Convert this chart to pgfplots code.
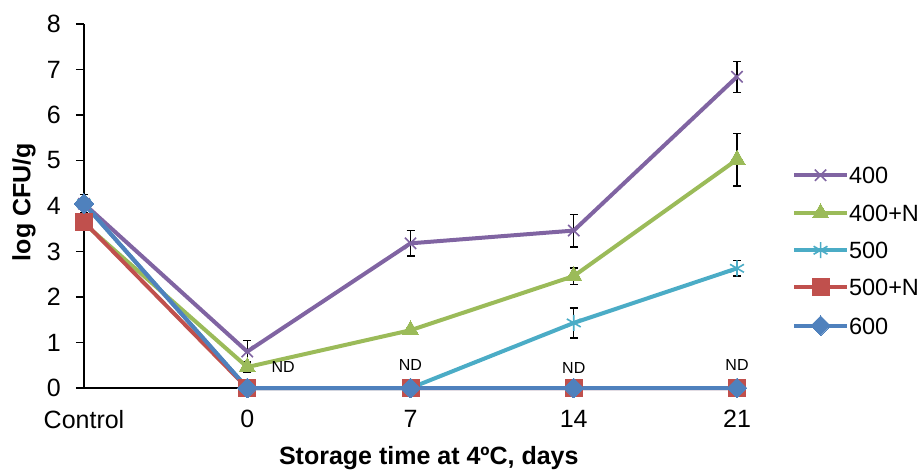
\documentclass[border=0pt]{standalone}
\usepackage{pgfplots}
\pgfplotsset{compat=1.18}
\usepackage{fontspec}
\setmainfont{Liberation Sans}
\definecolor{cpurple}{RGB}{128,100,162}
\definecolor{cgreen}{RGB}{155,187,89}
\definecolor{ccyan}{RGB}{75,172,198}
\definecolor{cred}{RGB}{192,80,77}
\definecolor{cblue}{RGB}{79,129,189}
\begin{document}
\begin{tikzpicture}
\useasboundingbox (-84pt,-84pt) rectangle (837pt,388pt);
\begin{axis}[
  scale only axis, width=653pt, height=364pt,
  xmin=0, xmax=4, ymin=0, ymax=8,
  clip=false,
  axis lines=left,
  axis line style={-, line width=1.3pt, black},
  xtick={0,1,2,3,4},
  xticklabels={Control,0,7,14,21},
  ytick={0,1,...,8},
  xtick style={draw=none},
  ytick style={line width=1.3pt, black},
  tick align=outside,
  major tick length=8pt,
  /pgf/number format/assume math mode=true,
  tick label style={font=\fontsize{25}{30}\selectfont},
  yticklabel style={inner sep=0pt, anchor=east, xshift=-15pt},
  xticklabel style={inner sep=0pt, anchor=north, yshift=-14pt},
  xlabel={\bfseries Storage time at 4ºC, days},
  ylabel={\bfseries log CFU/g},
  label style={font=\fontsize{25}{30}\selectfont},
  xlabel style={at={(axis description cs:0.528,-0.192)}, anchor=center},
  ylabel style={at={(axis description cs:-0.092,0.511)}, anchor=center, rotate=0},
  legend style={draw=none, fill=none, at={(rel axis cs:1.084,0.376)}, anchor=west,
    inner sep=0pt, row sep=20pt, font=\fontsize{23.5}{28}\selectfont,
    nodes={inner sep=0pt, text height=17pt, text depth=0pt, xshift=5pt}},
  legend cell align=left,
  legend image code/.code={\draw[mark repeat=2,mark phase=2,#1] plot coordinates {(0pt,0pt) (26.5pt,0pt) (53pt,0pt)};},
]
% 400
\addplot[forget plot, draw=none, mark=none, error bars/.cd, y dir=both, y explicit,
  error bar style={draw=black, line width=1.3pt, solid},
  error mark options={draw=black, line width=1.3pt, rotate=90, mark size=4pt}]
  coordinates {(0,4.05) +- (0,0.2) (1,0.80) +- (0,0.25) (2,3.18) +- (0,0.28) (3,3.46) +- (0,0.36) (4,6.84) +- (0,0.34)};
\addplot[cpurple, line width=4pt, mark=x, mark size=8pt, mark options={line width=1.6pt, solid}]
  coordinates {(0,4.05) (1,0.80) (2,3.18) (3,3.46) (4,6.84)};
\addlegendentry{400}
% 400+N
\addplot[forget plot, draw=none, mark=none, error bars/.cd, y dir=both, y explicit,
  error bar style={draw=black, line width=1.3pt, solid},
  error mark options={draw=black, line width=1.3pt, rotate=90, mark size=4pt}]
  coordinates {(1,0.46) +- (0,0.12) (2,1.27) +- (0,0.06) (3,2.46) +- (0,0.18) (4,5.02) +- (0,0.58)};
\addplot[cgreen, line width=4pt, mark=triangle*, mark size=9.5pt, mark options={line width=0pt, solid, fill=cgreen}]
  coordinates {(0,3.62) (1,0.46) (2,1.27) (3,2.46) (4,5.02)};
\addlegendentry{400+N}
% 500
\addplot[forget plot, draw=none, mark=none, error bars/.cd, y dir=both, y explicit,
  error bar style={draw=black, line width=1.3pt, solid},
  error mark options={draw=black, line width=1.3pt, rotate=90, mark size=4pt}]
  coordinates {(3,1.43) +- (0,0.33) (4,2.63) +- (0,0.17)};
\addplot[ccyan, line width=4pt, mark=asterisk, mark size=8pt, mark options={line width=1.6pt, solid}]
  coordinates {(0,4.05) (1,0) (2,0) (3,1.43) (4,2.63)};
\addlegendentry{500}
% 500+N
\addplot[cred, line width=4pt, mark=square*, mark size=8.5pt, mark options={line width=0pt, solid, fill=cred}]
  coordinates {(0,3.65) (1,0) (2,0) (3,0) (4,0)};
\addlegendentry{500+N}
% 600
\addplot[cblue, line width=4pt, mark=square*, mark size=7pt, mark options={line width=0pt, solid, fill=cblue, rotate=45}]
  coordinates {(0,4.05) (1,0) (2,0) (3,0) (4,0)};
\addlegendentry{600}
% ND labels
\node[font=\fontsize{16}{18}\selectfont, inner sep=0pt] at (axis cs:1.22,0.47) {ND};
\node[font=\fontsize{16}{18}\selectfont, inner sep=0pt] at (axis cs:2,0.50) {ND};
\node[font=\fontsize{16}{18}\selectfont, inner sep=0pt] at (axis cs:3,0.43) {ND};
\node[font=\fontsize{16}{18}\selectfont, inner sep=0pt] at (axis cs:4,0.50) {ND};
\end{axis}
\end{tikzpicture}
\end{document}
